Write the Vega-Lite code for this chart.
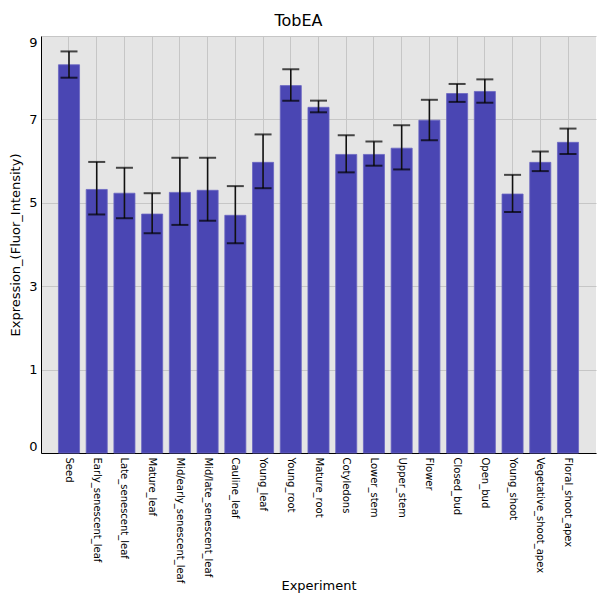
{
  "$schema": "https://vega.github.io/schema/vega-lite/v6.json",
  "autosize": "none",
  "width": 555,
  "height": 417,
  "padding": {"left": 41, "top": 36, "right": 4, "bottom": 147},
  "background": "white",
  "title": {
    "text": "TobEA",
    "font": "DejaVu Sans",
    "fontSize": 16,
    "fontWeight": "normal",
    "color": "black",
    "anchor": "middle",
    "baseline": "alphabetic",
    "offset": 10,
    "dx": -20,
    "dy": 16
  },
  "data": {
    "values": [
      {"Experiment": "Seed", "mean": 8.31, "lo": 8.0, "hi": 8.63},
      {"Experiment": "Early_senescent_leaf", "mean": 5.32, "lo": 4.72, "hi": 5.98},
      {"Experiment": "Late_senescent_leaf", "mean": 5.23, "lo": 4.63, "hi": 5.84},
      {"Experiment": "Mature_leaf", "mean": 4.73, "lo": 4.27, "hi": 5.23},
      {"Experiment": "Mid/early_senescent_leaf", "mean": 5.25, "lo": 4.47, "hi": 6.08},
      {"Experiment": "Mid/late_senescent_leaf", "mean": 5.3, "lo": 4.57, "hi": 6.08},
      {"Experiment": "Cauline_leaf", "mean": 4.7, "lo": 4.03, "hi": 5.4},
      {"Experiment": "Young_leaf", "mean": 5.97, "lo": 5.35, "hi": 6.64},
      {"Experiment": "Young_root", "mean": 7.81, "lo": 7.45, "hi": 8.2},
      {"Experiment": "Mature_root", "mean": 7.29, "lo": 7.17, "hi": 7.45},
      {"Experiment": "Cotyledons", "mean": 6.16, "lo": 5.73, "hi": 6.62},
      {"Experiment": "Lower_stem", "mean": 6.16, "lo": 5.89, "hi": 6.47},
      {"Experiment": "Upper_stem", "mean": 6.31, "lo": 5.8, "hi": 6.86},
      {"Experiment": "Flower", "mean": 6.98, "lo": 6.5, "hi": 7.47},
      {"Experiment": "Closed_bud", "mean": 7.62, "lo": 7.42, "hi": 7.85},
      {"Experiment": "Open_bud", "mean": 7.67, "lo": 7.4, "hi": 7.96},
      {"Experiment": "Young_shoot", "mean": 5.21, "lo": 4.78, "hi": 5.67},
      {"Experiment": "Vegetative_shoot_apex", "mean": 5.97, "lo": 5.76, "hi": 6.23},
      {"Experiment": "Floral_shoot_apex", "mean": 6.45, "lo": 6.17, "hi": 6.78}
    ]
  },
  "encoding": {
    "x": {
      "field": "Experiment",
      "type": "nominal",
      "sort": null,
      "scale": {"paddingInner": 0.24, "paddingOuter": 0.63},
      "axis": {
        "title": "Experiment",
        "labelAngle": 90,
        "labelAlign": "left",
        "labelBaseline": "middle",
        "labelFontSize": 10,
        "labelPadding": 4,
        "ticks": false,
        "grid": true,
        "bandPosition": 0.5,
        "titlePadding": -3,
        "titleFontSize": 13
      }
    }
  },
  "layer": [
    {
      "mark": {"type": "bar", "color": "#4a46b3", "stroke": "#6a66c2", "strokeWidth": 0.8},
      "encoding": {
        "y": {
          "field": "mean",
          "type": "quantitative",
          "scale": {"domain": [-1, 9], "nice": false, "zero": false},
          "axis": {
            "title": "Expression_(Fluor_Intensity)",
            "values": [-1, 1, 3, 5, 7, 9],
            "labelExpr": "datum.value < 0 ? '0' : datum.label",
            "labelFlush": true,
            "labelFontSize": 13,
            "labelPadding": 4,
            "ticks": false,
            "titleFontSize": 13,
            "titlePadding": 6
          }
        },
        "y2": {"datum": -1}
      }
    },
    {
      "mark": {"type": "rule", "color": "#111111", "strokeWidth": 1.6},
      "encoding": {
        "y": {"field": "lo", "type": "quantitative"},
        "y2": {"field": "hi"}
      }
    },
    {
      "mark": {"type": "tick", "color": "black", "size": 17, "thickness": 2},
      "encoding": {"y": {"field": "lo", "type": "quantitative"}}
    },
    {
      "mark": {"type": "tick", "color": "black", "size": 17, "thickness": 2},
      "encoding": {"y": {"field": "hi", "type": "quantitative"}}
    }
  ],
  "config": {
    "font": "DejaVu Sans",
    "view": {"fill": "#e5e5e5", "stroke": null},
    "axis": {
      "domainColor": "black",
      "domainWidth": 1,
      "gridColor": "#c6c6c6",
      "gridWidth": 1,
      "labelColor": "black",
      "titleColor": "black",
      "titleFontWeight": "normal",
      "labelFont": "DejaVu Sans",
      "titleFont": "DejaVu Sans"
    }
  }
}
